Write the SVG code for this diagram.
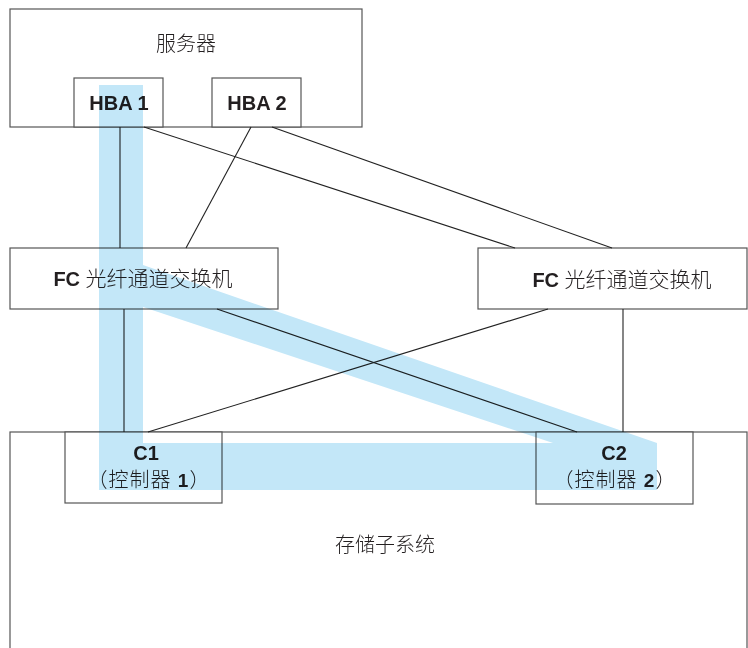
<svg xmlns="http://www.w3.org/2000/svg" width="748" height="648" viewBox="0 0 748 648">
<style>
.box{fill:#fff;stroke:#555;stroke-width:1.2}
.ln{stroke:#222;stroke-width:1.1;fill:none}
.cj{font-family:"Noto Sans CJK SC","Liberation Sans",sans-serif;font-weight:300;fill:#231f20}
.lb{font-family:"Liberation Sans","Noto Sans CJK SC",sans-serif;font-weight:bold;fill:#231f20}
.band{fill:#c3e7f8;mix-blend-mode:multiply}
</style>
<rect width="748" height="648" fill="#fff"/>
<g id="server">
<rect class="box" x="10" y="9" width="352" height="118"/>
<text class="cj" x="186" y="51" font-size="20" text-anchor="middle">服务器</text>
</g>
<g id="hba1">
<rect class="box" x="74" y="78" width="89" height="49"/>
<text class="lb" x="119" y="110" font-size="20" text-anchor="middle">HBA 1</text>
</g>
<g id="hba2">
<rect class="box" x="212" y="78" width="89" height="49"/>
<text class="lb" x="257" y="110" font-size="20" text-anchor="middle">HBA 2</text>
</g>
<g id="switch1">
<rect class="box" x="10" y="248" width="268" height="61"/>
<text x="143" y="286" text-anchor="middle"><tspan class="lb" font-size="20">FC </tspan><tspan class="cj" font-size="21">光纤通道交换机</tspan></text>
</g>
<g id="switch2">
<rect class="box" x="478" y="248" width="269" height="61"/>
<text x="622" y="287" text-anchor="middle"><tspan class="lb" font-size="20">FC </tspan><tspan class="cj" font-size="21">光纤通道交换机</tspan></text>
</g>
<g id="storage">
<rect class="box" x="10" y="432" width="737" height="230"/>
<text class="cj" x="385" y="552" font-size="20" text-anchor="middle">存储子系统</text>
</g>
<g id="c1">
<rect class="box" x="65" y="432" width="157" height="71"/>
<text class="lb" x="146" y="460" font-size="20" text-anchor="middle">C1</text>
<text x="149" y="487" text-anchor="middle" letter-spacing="1"><tspan class="cj" font-size="20">（控制器</tspan><tspan class="lb" font-size="19"> 1</tspan><tspan class="cj" font-size="20">）</tspan></text>
</g>
<g id="c2">
<rect class="box" x="536" y="432" width="157" height="72"/>
<text class="lb" x="614" y="460" font-size="20" text-anchor="middle">C2</text>
<text x="615" y="487" text-anchor="middle" letter-spacing="1"><tspan class="cj" font-size="20">（控制器</tspan><tspan class="lb" font-size="19"> 2</tspan><tspan class="cj" font-size="20">）</tspan></text>
</g>
<g id="connectors">
<line class="ln" x1="120" y1="127" x2="120" y2="248"/>
<line class="ln" x1="144" y1="127" x2="515" y2="248"/>
<line class="ln" x1="251" y1="127" x2="186" y2="248"/>
<line class="ln" x1="272" y1="127" x2="612" y2="248"/>
<line class="ln" x1="124" y1="309" x2="124" y2="432"/>
<line class="ln" x1="217" y1="309" x2="577" y2="432"/>
<line class="ln" x1="548" y1="309" x2="148" y2="432"/>
<line class="ln" x1="623" y1="309" x2="623" y2="432"/>
</g>
<g id="path-highlight">
<path class="band" d="M99,85 H143 V265 L657,443 V490 H99 Z M143,307 L553,443 H143 Z" fill-rule="evenodd"/>
</g>
</svg>
